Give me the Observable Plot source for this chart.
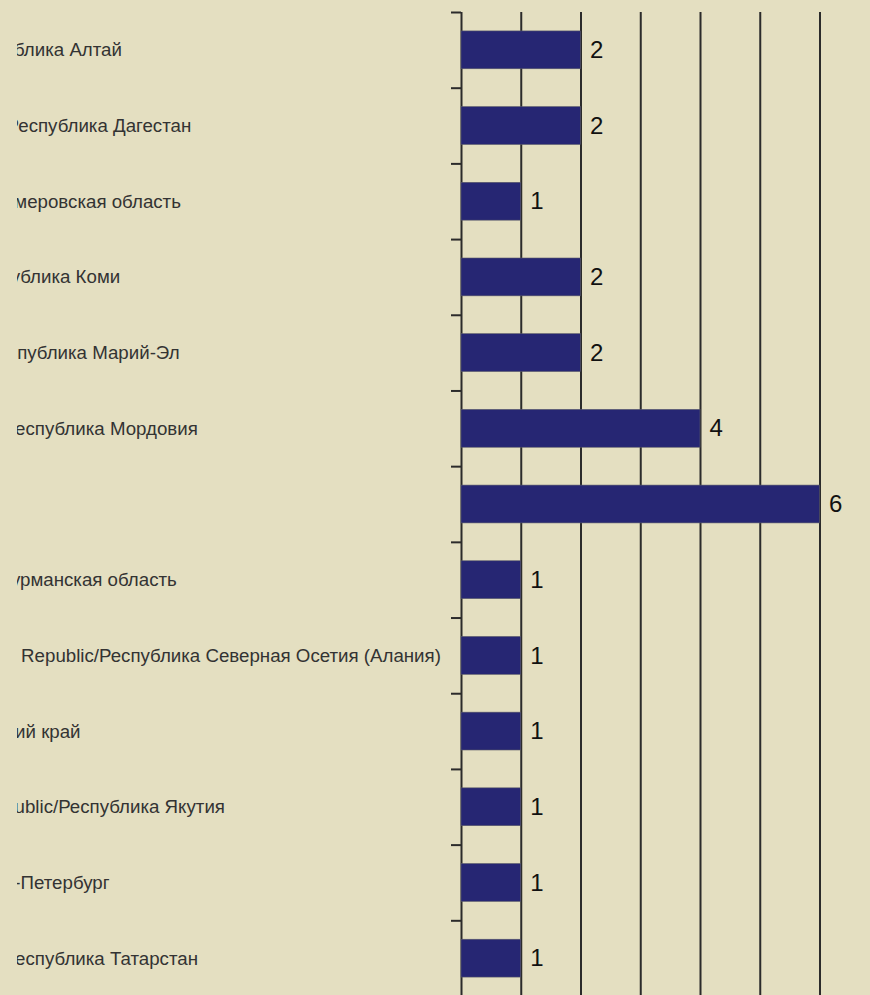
<!DOCTYPE html>
<html><head><meta charset="utf-8">
<script src="https://cdn.jsdelivr.net/npm/d3@7"></script>
<script src="https://cdn.jsdelivr.net/npm/@observablehq/plot@0.6"></script>
<style>
html,body{margin:0;padding:0;background:#e4dfc1;overflow:hidden;width:870px;height:995px;}
#clip{position:absolute;left:17px;top:0;width:853px;height:995px;overflow:hidden;}
#chart{position:absolute;left:-174px;top:0;}
</style></head>
<body><div id="clip"><div id="chart"></div></div>
<script>
const regions = [
  "Altai Republic/Республика Алтай",
  "Dagestan Republic/Республика Дагестан",
  "Kemerovo Oblast/Кемеровская область",
  "Komi Republic/Республика Коми",
  "Mari-El Republic/Республика Марий-Эл",
  "Mordovia Republic/Республика Мордовия",
  "Moscow/Москва",
  "Murmansk Oblast/Мурманская область",
  "North Ossetia-Alania Republic/Республика Северная Осетия (Алания)",
  "Perm region/Пермский край",
  "Sakha (Yakutia) Republic/Республика Якутия",
  "St.Petersburg/Санкт-Петербург",
  "Tatarstan Republic/Республика Татарстан"
];
const counts = [2, 2, 1, 2, 2, 4, 6, 1, 1, 1, 1, 1, 1];
const gridValues = [1, 2, 3, 4, 5, 6];
const axisValue = [0];

const data = regions.map((r, i) => ({region: r, count: counts[i]}));

const W = 1027, H = 996, ML = 618, MR = 50.5, MT = 12, MB = 0;
const PI = 0.5, PO = 0.25;

function build(tickDy) {
  return Plot.plot({
    width: W, height: H,
    marginLeft: ML, marginRight: MR, marginTop: MT, marginBottom: MB,
    style: {background: "transparent", fontFamily: "'Liberation Sans', Arial, sans-serif"},
    x: {domain: [0, 6], axis: null},
    y: {type: "band", domain: regions, paddingInner: PI, paddingOuter: PO, align: 0.5, round: false},
    marks: [
      Plot.ruleX(gridValues, {stroke: "#2b2b2b", strokeWidth: 2}),
      Plot.ruleX(axisValue, {stroke: "#2b2b2b", strokeWidth: 2}),
      Plot.axisY({tickSize: 10, tickFormat: () => "", dy: tickDy, stroke: "#2b2b2b", strokeWidth: 2}),
      Plot.barX(data, {x: "count", y: "region", fill: "#262673", stroke: "#5a5a6a", strokeWidth: 0.6}),
      Plot.text(regions, {y: d => d, text: d => d, frameAnchor: "left", textAnchor: "start", dx: -ML, fontSize: 18.7, fill: "#333"}),
      Plot.text(data, {x: "count", y: "region", text: d => String(d.count), textAnchor: "start", dx: 9, fontSize: 24, fill: "#111"})
    ]
  });
}

let plot = build(0);
const ys = plot.scale("y");
const n = regions.length;
const step = ys.step ?? (ys.range[1] - ys.range[0]) / (n - PI + 2 * PO);
plot = build(-step / 2);
document.getElementById("chart").appendChild(plot);
</script>
</body></html>
